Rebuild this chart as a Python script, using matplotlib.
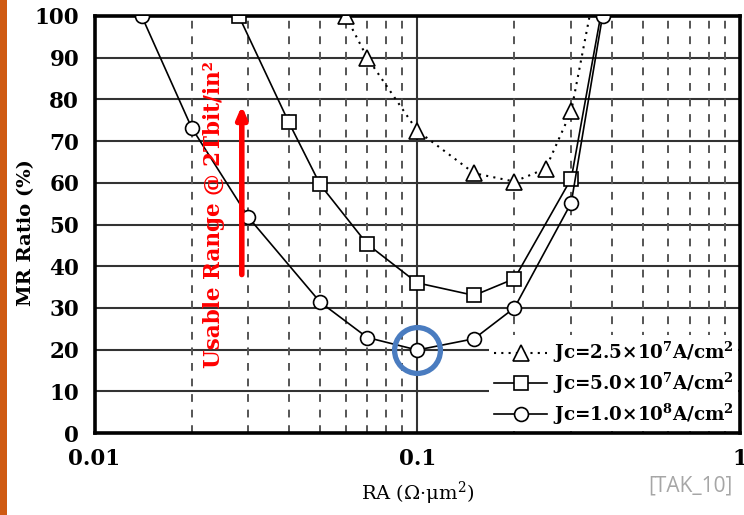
import matplotlib
matplotlib.use("Agg")
import matplotlib.pyplot as plt
from matplotlib.patches import Rectangle
from matplotlib.ticker import FixedLocator, NullFormatter

# ---- data ----
ra_tri = [0.06, 0.07, 0.10, 0.15, 0.20, 0.25, 0.30, 0.342]
mr_tri = [100, 90, 72.5, 62.3, 60.3, 63.4, 77.2, 100]

ra_sq = [0.028, 0.04, 0.05, 0.07, 0.10, 0.15, 0.20, 0.30, 0.37]
mr_sq = [100, 74.5, 59.6, 45.3, 36.0, 33.0, 37.0, 61.0, 100]

ra_ci = [0.014, 0.02, 0.03, 0.05, 0.07, 0.10, 0.15, 0.20, 0.30, 0.375]
mr_ci = [100, 73.2, 51.7, 31.4, 22.9, 19.9, 22.6, 30.0, 55.2, 100]

labels = [r"Jc=2.5×10$^{\mathbf{7}}$A/cm$^{\mathbf{2}}$",
          r"Jc=5.0×10$^{\mathbf{7}}$A/cm$^{\mathbf{2}}$",
          r"Jc=1.0×10$^{\mathbf{8}}$A/cm$^{\mathbf{2}}$"]

yticks = [0, 10, 20, 30, 40, 50, 60, 70, 80, 90, 100]
xticks = [0.01, 0.1, 1]
xticklabels = ["0.01", "0.1", "1"]
minor_x = [0.02, 0.03, 0.04, 0.05, 0.06, 0.07, 0.08, 0.09,
           0.2, 0.3, 0.4, 0.5, 0.6, 0.7, 0.8, 0.9]

arrow_x = 0.0286
arrow_y = (38, 78.5)
highlight = (0.1, 20)

serif = ["DejaVu Serif"]
plt.rcParams["mathtext.fontset"] = "dejavuserif"

fig = plt.figure(figsize=(7.44, 5.15), dpi=100)
fig.patch.set_facecolor("white")
fig.patches.append(Rectangle((0, 0), 7 / 744, 1, transform=fig.transFigure,
                             facecolor="#cf5a12", edgecolor="none"))

ax = fig.add_axes([94.5 / 744, 82 / 515, (740 - 94.5) / 744, (433 - 16) / 515])
ax.set_xscale("log")
ax.set_xlim(0.01, 1)
ax.set_ylim(0, 100)

# grid
for y in yticks[1:-1]:
    ax.axhline(y, color="#333333", lw=1.5, zorder=1)
for x in minor_x:
    ax.axvline(x, color="#555555", lw=1.4, ls=(0, (4, 4)), zorder=1)
ax.axvline(0.1, color="#333333", lw=1.5, zorder=1)

mk = dict(mfc="white", mec="black", mew=1.2, color="black", zorder=3)
ax.plot(ra_tri, mr_tri, ls=(0, (1, 2.5)), lw=1.5, marker="^", ms=11,
        markevery=list(range(len(ra_tri) - 1)), label=labels[0], **mk)
ax.plot(ra_sq, mr_sq, ls="-", lw=1.2, marker="s", ms=10,
        markevery=list(range(len(ra_sq) - 1)), label=labels[1], **mk)
ax.plot(ra_ci, mr_ci, ls="-", lw=1.2, marker="o", ms=10, label=labels[2], **mk)

# highlight circle
ax.plot([highlight[0]], [highlight[1]], marker="o", ms=33, mfc="none",
        mec="#4a7cc0", mew=3.8, ls="none", zorder=5, clip_on=False)

# red arrow and text
ax.annotate("", xy=(arrow_x, arrow_y[1]), xytext=(arrow_x, arrow_y[0]),
            arrowprops=dict(arrowstyle="-|>,head_length=0.7,head_width=0.3",
                            color="red", lw=4, shrinkA=0, shrinkB=0), zorder=6)
ax.text(0.0235, 52.5, "Usable Range @ 2Tbit/in²", rotation=90, color="red",
        fontsize=15.5, fontweight="bold", family=serif, ha="center", va="center",
        zorder=6)

for s in ax.spines.values():
    s.set_linewidth(2.6)
    s.set_color("black")

ax.set_xticks(xticks)
ax.set_xticklabels(xticklabels)
ax.xaxis.set_minor_locator(FixedLocator(minor_x))
ax.xaxis.set_minor_formatter(NullFormatter())
ax.set_yticks(yticks)
ax.tick_params(axis="both", which="both", length=0)
ax.tick_params(axis="y", pad=11)
ax.tick_params(axis="x", pad=11)
for lab in ax.get_xticklabels() + ax.get_yticklabels():
    lab.set_fontfamily(serif)
    lab.set_fontweight("bold")
    lab.set_fontsize(15.5)

ax.set_ylabel("MR Ratio (%)", fontsize=14, fontweight="bold", family=serif)
ax.yaxis.label.set_va("center")
ax.yaxis.set_label_coords((26 - 94.5) / 645.5, 0.48)
ax.set_xlabel("RA (Ω·μm$^2$)", fontsize=14, family=serif, labelpad=7)

leg = ax.legend(loc="lower right", frameon=True, fancybox=False, framealpha=1,
                edgecolor="none", facecolor="white", handlelength=2.9,
                borderaxespad=0.1, labelspacing=0.3, handletextpad=0.3,
                borderpad=0.25,
                prop=dict(family=serif, weight="bold", size=13.2))
leg.set_zorder(4)

fig.text(0.985, 0.035, "[TAK_10]", ha="right", va="bottom", color="#a6a6a6",
         fontsize=15, family="Open Sans")

fig.savefig("out.png", dpi=100)
